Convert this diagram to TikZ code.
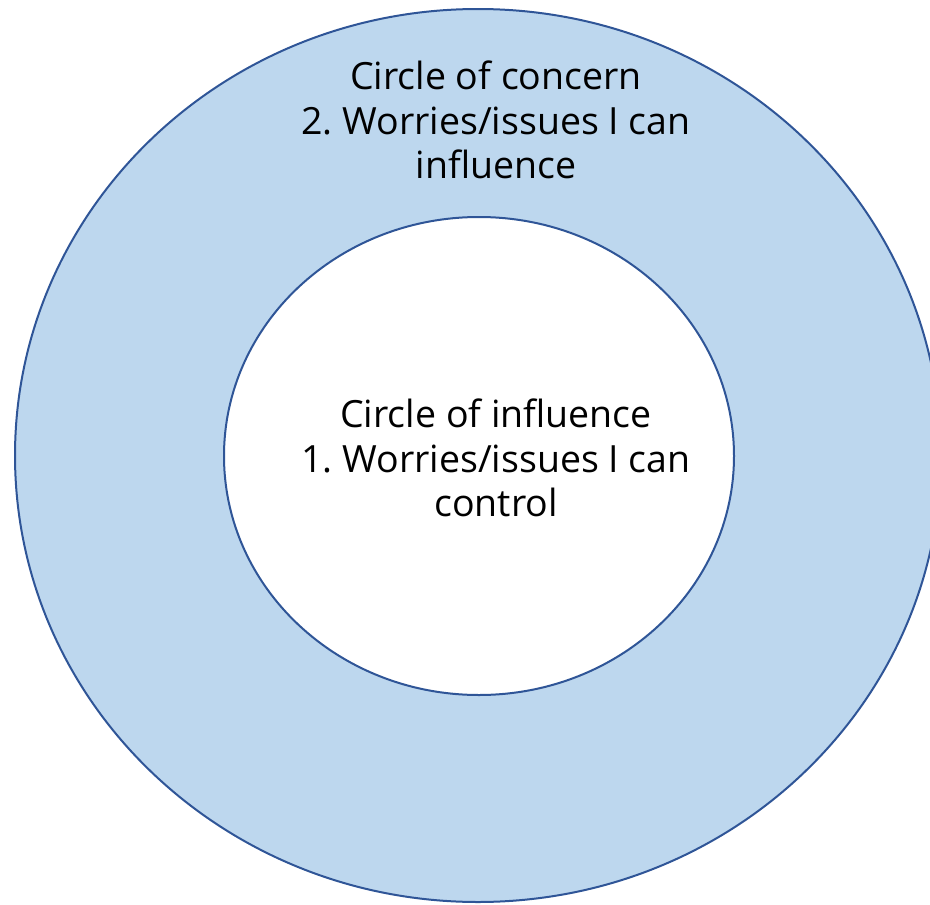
\documentclass[tikz,border=0pt]{standalone}
\usepackage{fontspec}
\setmainfont{Open Sans}
\frenchspacing
\begin{document}
\begin{tikzpicture}[x=1pt,y=-1pt,
  ring/.style={draw=ringline,line width=2pt},
  label/.style={align=center,font=\fontsize{37.5}{44.5}\selectfont,inner sep=0pt}]
\definecolor{ringline}{HTML}{2F5597}
\definecolor{ringfill}{HTML}{BDD7EE}
\useasboundingbox (0,0) rectangle (930,905);
\clip (0,0) rectangle (930,905);
% outer circle of concern
\draw[ring,fill=ringfill] (478,455.5) ellipse [x radius=463, y radius=446.5];
% inner circle of influence
\draw[ring,fill=white] (479,456) ellipse [x radius=255, y radius=239];
\node[label] (concern) at (496,120) {Circle of concern\\2. Worries/issues I can\\influence};
\node[label] (influence) at (496,458) {Circle of influence\\1. Worries/issues I can\\control};
\end{tikzpicture}
\end{document}
